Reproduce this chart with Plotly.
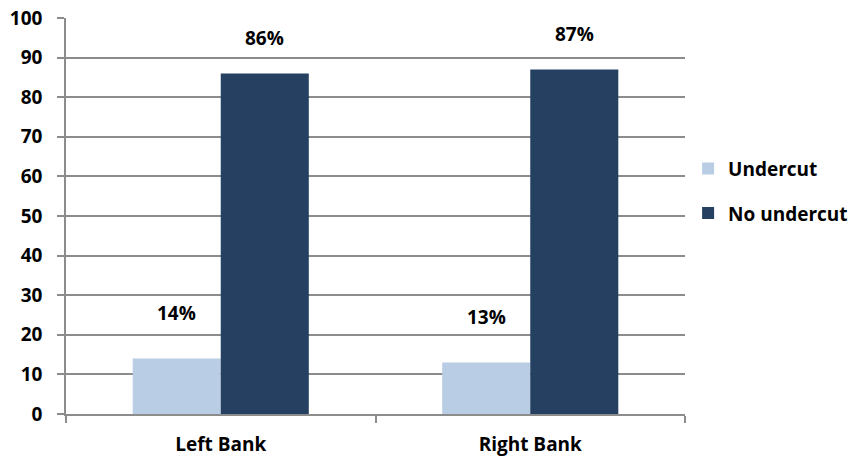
import plotly.graph_objects as go

categories = ["Left Bank", "Right Bank"]
undercut = [14, 13]
no_undercut = [86, 87]
undercut_labels = ["14%", "13%"]
no_undercut_labels = ["86%", "87%"]
y_ticks = [0, 10, 20, 30, 40, 50, 60, 70, 80, 90, 100]

FONT = "Open Sans"
FS = 19
light = "#B9CDE5"
dark = "#264062"
grid = "#8C8C8C"
tf = dict(family=FONT, size=FS, color="black", weight="bold")

fig = go.Figure()
fig.add_trace(go.Bar(name="Undercut", x=categories, y=undercut, marker_color=light,
                     marker_line_width=0, legendgroup="a"))
fig.add_trace(go.Bar(name="No undercut", x=categories, y=no_undercut, marker_color=dark,
                     marker_line_width=0, legendgroup="b"))

for i, c in enumerate(categories):
    fig.add_annotation(x=c, y=undercut[i], text=undercut_labels[i], xref="x", yref="y",
                       showarrow=False, xshift=-44, yshift=46, font=tf)
    fig.add_annotation(x=c, y=no_undercut[i], text=no_undercut_labels[i], xref="x", yref="y",
                       showarrow=False, xshift=44, yshift=35, font=tf)

fig.update_layout(
    width=853, height=458,
    margin=dict(l=66, r=168, t=18, b=44, autoexpand=False),
    paper_bgcolor="white", plot_bgcolor="white",
    barmode="group", bargap=0.431, bargroupgap=0,
    font=tf,
    showlegend=True,
    legend=dict(x=1.005, y=0.563, xanchor="left", yanchor="middle",
                tracegroupgap=17, font=tf, itemwidth=30),
)
fig.update_yaxes(range=[0, 100], tickvals=y_ticks, showgrid=True, gridcolor=grid, gridwidth=1.5,
                 showline=True, linecolor=grid, linewidth=1.5, ticks="outside", ticklen=7,
                 tickcolor=grid, tickwidth=1.5, ticklabelstandoff=11, zeroline=False,
                 automargin=False, tickfont=tf)
fig.update_xaxes(showline=True, linecolor=grid, linewidth=1.5, ticks="outside", ticklen=7,
                 tickcolor=grid, tickwidth=1.5, tickson="boundaries", ticklabelstandoff=12,
                 automargin=False, tickfont=tf)

fig.write_html("out.html", post_script="document.body.style.margin='0';",
               config={"displayModeBar": False})
